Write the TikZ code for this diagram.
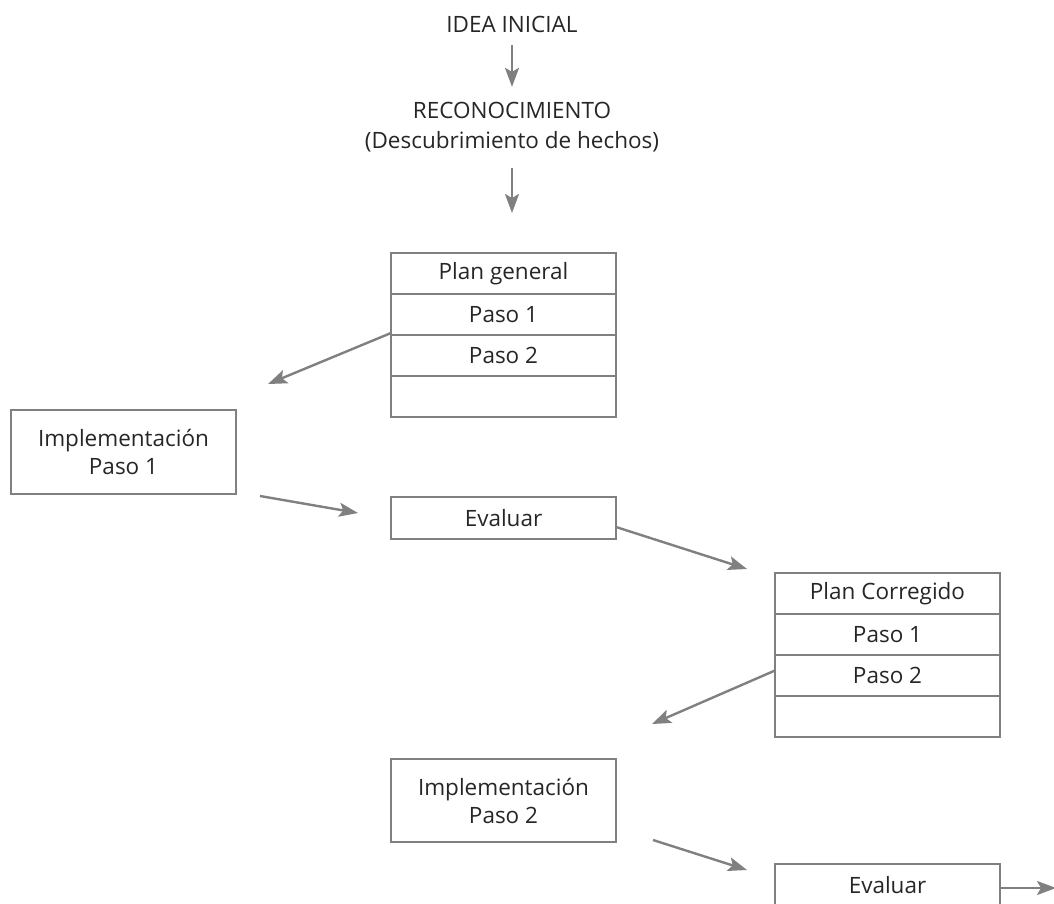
\documentclass[tikz,border=0pt]{standalone}
\usepackage{fontspec}
\setmainfont{Open Sans}
\usetikzlibrary{arrows.meta,positioning}
\definecolor{gris}{RGB}{128,128,128}
\tikzset{
  fila/.style={draw=gris, line width=2pt, minimum width=225pt, minimum height=41pt,
    inner sep=0pt, outer sep=0pt, text=black!85, font=\fontsize{22.5}{28}\selectfont},
  caja/.style={fila, align=center, minimum height=84pt},
  texto/.style={inner sep=0pt, text=black!85, align=center, font=\fontsize{22.5}{30}\selectfont},
  flecha/.style={draw=gris, line width=2.4pt, -{Stealth[length=19pt,width=14pt,inset=4pt]}}
}

\begin{document}
\begin{tikzpicture}[x=1pt,y=-1pt]
\useasboundingbox (0,0) rectangle (1054,904);
% inicio
\node[texto, text depth=0pt] (idea) at (512,24) {IDEA INICIAL};
\node[texto] (reco) at (512,127) {RECONOCIMIENTO\\(Descubrimiento de hechos)};
\draw[flecha, shorten <=13pt, shorten >=15pt] (idea) -- (reco);
%
% plan general
\node[fila] (plan) at (503.5,273.5) {Plan general};
\node[fila, below=0pt of plan] (plan1) {Paso 1};
\node[fila, below=0pt of plan1] (plan2) {Paso 2};
\node[fila, below=0pt of plan2] (plan3) {};
\draw[flecha, shorten <=16pt, shorten >=40pt] (reco.south) -- (reco.south |- plan.north);
%
\node[caja] (impl1) at (123.5,452) {Implementación\\Paso 1};
\node[fila, minimum height=42pt] (eval1) at (503.5,518) {Evaluar};
%
% plan corregido
\node[fila] (corr) at (887.5,593.5) {Plan Corregido};
\node[fila, below=0pt of corr] (corr1) {Paso 1};
\node[fila, below=0pt of corr1] (corr2) {Paso 2};
\node[fila, below=0pt of corr2] (corr3) {};
%
\node[caja, minimum height=83pt] (impl2) at (503.5,800.5) {Implementación\\Paso 2};
\node[fila, minimum height=42pt] (eval2) at (887.5,885) {Evaluar};
%
% extremos de las flechas
\coordinate (a1) at ([yshift=2pt]plan1.south west);
\coordinate (b1) at ([xshift=32pt,yshift=26pt]impl1.north east);
\coordinate (a2) at ([xshift=24pt,yshift=-2pt]impl1.south east);
\coordinate (b2) at ([xshift=-33pt,yshift=5pt]eval1.west);
\coordinate (a3) at ([yshift=-9pt]eval1.east);
\coordinate (b3) at ([xshift=-28pt,yshift=4pt]corr.north west);
\coordinate (a4) at ([yshift=5pt]corr2.west);
\coordinate (b4) at ([xshift=36pt,yshift=35pt]impl2.north east);
\coordinate (a5) at ([xshift=37pt,yshift=2pt]impl2.south east);
\coordinate (b5) at ([xshift=-28pt,yshift=15pt]eval2.west);
\coordinate (a6) at ([yshift=-3pt]eval2.east);
\coordinate (b6) at ([xshift=56pt]a6);
\foreach \i in {1,...,6}{
  \draw[flecha] (a\i) -- (b\i);
}
\end{tikzpicture}
\end{document}
